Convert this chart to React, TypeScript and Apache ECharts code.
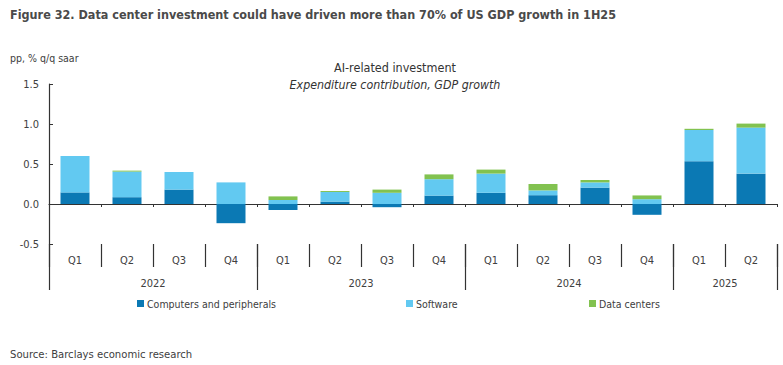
import React, { useEffect, useRef } from "react";
import * as echarts from "echarts";

const quarters = ["Q1", "Q2", "Q3", "Q4", "Q1", "Q2", "Q3", "Q4", "Q1", "Q2", "Q3", "Q4", "Q1", "Q2"];
const years = ["2022", "2023", "2024", "2025"];
const yearLabelPos = [2, 6, 10, 13];
const yearBoundaries = [0, 4, 8, 12, 14];

const computers = [0.145, 0.085, 0.18, -0.24, -0.075, 0.03, -0.04, 0.105, 0.14, 0.11, 0.205, -0.135, 0.535, 0.38];
const software = [0.455, 0.32, 0.22, 0.27, 0.05, 0.12, 0.14, 0.205, 0.24, 0.06, 0.065, 0.06, 0.39, 0.575];
const dataCenters = [0.0, 0.012, 0.0, 0.0, 0.045, 0.012, 0.04, 0.06, 0.05, 0.08, 0.03, 0.047, 0.015, 0.05];

const yTicks = [-0.5, 0, 0.5, 1.0, 1.5];

const FONT = "'DejaVu Sans Condensed', 'Liberation Sans', sans-serif";
const TXT = "#404040";
const AX = "#333333";
const C_COMP = "#0b79b4";
const C_SOFT = "#62c9f1";
const C_DC = "#82c250";

export default function App() {
  const ref = useRef<HTMLDivElement>(null);
  useEffect(() => {
    if (!ref.current) return;
    const chart = echarts.init(ref.current, null, { renderer: "svg" });
    const legendBase = {
      top: 298,
      itemWidth: 7,
      itemHeight: 7,
      icon: "rect",
      textStyle: { fontFamily: FONT, fontSize: 10.5, color: TXT, padding: [0, 0, 0, -2] },
      padding: 0,
    };
    chart.setOption({
      animation: false,
      backgroundColor: "#ffffff",
      textStyle: { fontFamily: FONT },
      title: [
        {
          text: "Figure 32. Data center investment could have driven more than 70% of US GDP growth in 1H25",
          left: 10,
          top: 8,
          padding: 0,
          textStyle: { fontFamily: FONT, fontSize: 12.5, fontWeight: "bold", color: "#4a4a4a" },
        },
        {
          text: "pp, % q/q saar",
          left: 10,
          top: 52,
          padding: 0,
          textStyle: { fontFamily: FONT, fontSize: 10.5, fontWeight: "normal", color: TXT },
        },
        {
          text: "AI-related investment",
          subtext: "Expenditure contribution, GDP growth",
          left: 395,
          textAlign: "center",
          top: 61,
          padding: 0,
          itemGap: 5,
          textStyle: { fontFamily: FONT, fontSize: 12.5, fontWeight: "normal", color: "#333" },
          subtextStyle: { fontFamily: FONT, fontSize: 12.3, fontStyle: "italic", color: "#333" },
        },
        {
          text: "Source: Barclays economic research",
          left: 10,
          top: 349,
          padding: 0,
          textStyle: { fontFamily: FONT, fontSize: 11.2, fontWeight: "normal", color: TXT },
        },
      ],
      legend: [
        { ...legendBase, left: 137, data: ["Computers and peripherals"] },
        { ...legendBase, left: 406, data: ["Software"] },
        { ...legendBase, left: 589, data: ["Data centers"] },
      ],
      grid: { left: 49, right: 6, top: 84, bottom: 121, containLabel: false },
      xAxis: [
        {
          type: "category",
          data: quarters,
          position: "bottom",
          axisLine: { onZero: true, lineStyle: { color: AX, width: 1.2 } },
          axisTick: { show: true, length: 3, lineStyle: { color: AX } },
          axisLabel: { show: false },
          splitLine: { show: false },
        },
        {
          type: "category",
          data: quarters,
          position: "bottom",
          axisLine: { show: false, onZero: false },
          axisTick: { show: true, length: 23, lineStyle: { color: AX, width: 1.2 }, interval: 0 },
          axisLabel: { show: true, margin: 11, fontSize: 11, color: TXT, fontFamily: FONT, interval: 0 },
          splitLine: { show: false },
        },
        {
          type: "value",
          min: 0,
          max: 14,
          position: "bottom",
          axisLine: { show: false, onZero: false },
          axisTick: { show: true, length: 46, customValues: yearBoundaries, lineStyle: { color: AX, width: 1.2 } },
          axisLabel: {
            show: true,
            margin: 34,
            fontSize: 11,
            color: TXT,
            fontFamily: FONT,
            customValues: yearLabelPos,
            formatter: (v: number) => years[yearLabelPos.indexOf(v)] ?? "",
          },
          splitLine: { show: false },
        },
      ],
      yAxis: {
        type: "value",
        min: -0.5,
        max: 1.5,
        interval: 0.5,
        axisLine: { show: true, lineStyle: { color: AX, width: 1.2 } },
        axisTick: { show: true, inside: true, length: 4, lineStyle: { color: AX } },
        axisLabel: {
          fontSize: 11,
          color: TXT,
          fontFamily: FONT,
          margin: 10,
          formatter: (v: number) => (yTicks.includes(v) ? v.toFixed(1) : ""),
        },
        splitLine: { show: false },
      },
      series: [
        {
          name: "Computers and peripherals",
          type: "bar",
          stack: "ai",
          xAxisIndex: 0,
          data: computers,
          barWidth: 29,
          itemStyle: { color: C_COMP },
        },
        {
          name: "Software",
          type: "bar",
          stack: "ai",
          xAxisIndex: 0,
          data: software,
          barWidth: 29,
          itemStyle: { color: C_SOFT },
        },
        {
          name: "Data centers",
          type: "bar",
          stack: "ai",
          xAxisIndex: 0,
          data: dataCenters,
          barWidth: 29,
          itemStyle: { color: C_DC },
        },
      ],
    });
    return () => chart.dispose();
  }, []);
  return <div ref={ref} style={{ width: 783, height: 365, position: "absolute", left: 0, top: 0 }} />;
}
